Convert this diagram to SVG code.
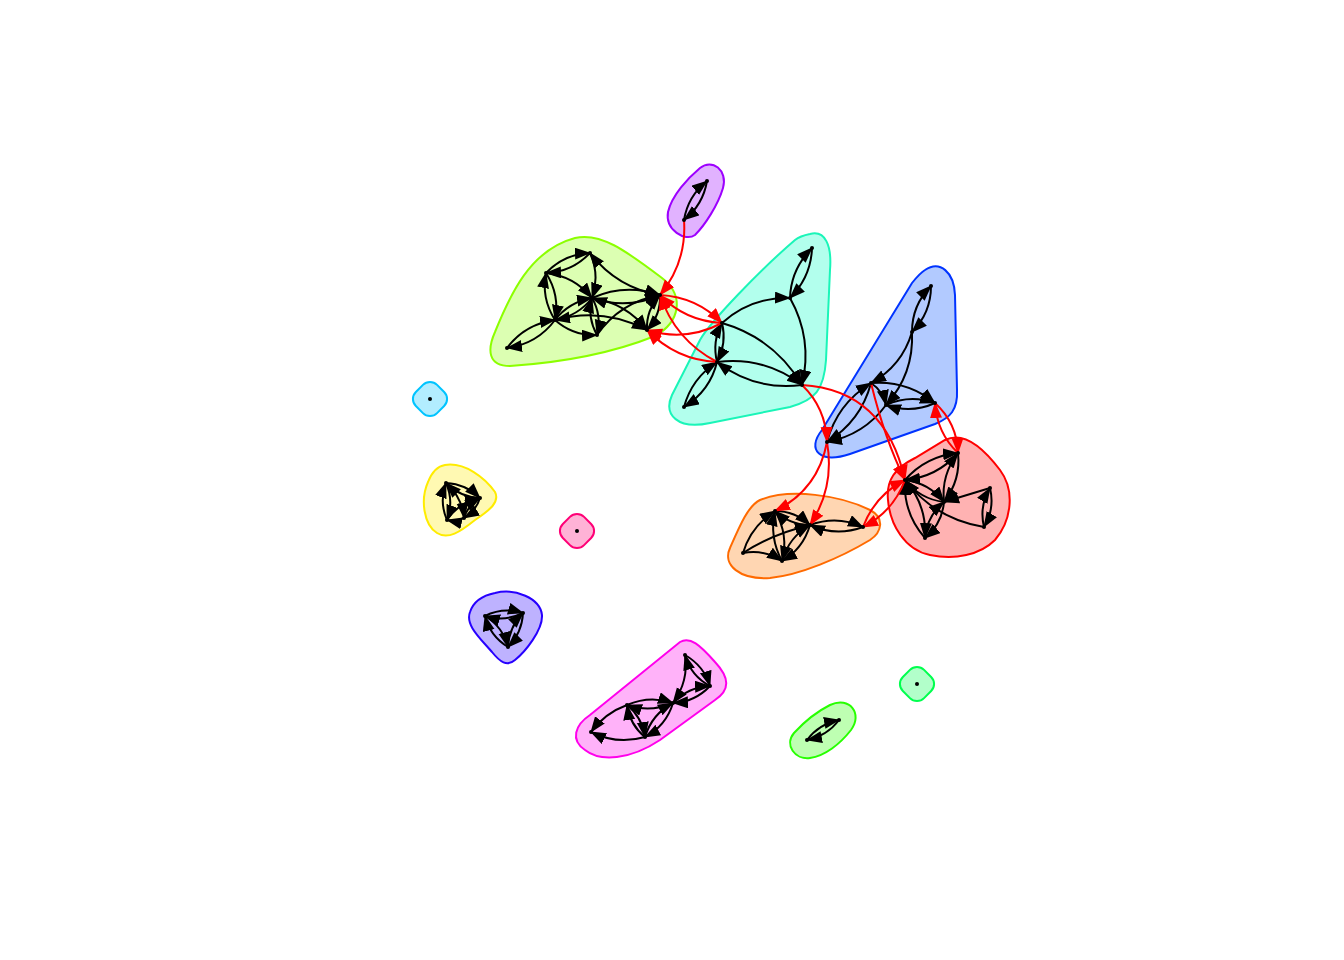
<svg xmlns="http://www.w3.org/2000/svg" width="1344" height="960" viewBox="0 0 1344 960">
<defs>
<marker id="ab" markerUnits="userSpaceOnUse" markerWidth="18" markerHeight="14" refX="15" refY="6" orient="auto"><path d="M0,0 L16,6 L0,12 Z" fill="#000"/></marker>
<marker id="ar" markerUnits="userSpaceOnUse" markerWidth="18" markerHeight="14" refX="15" refY="6" orient="auto"><path d="M0,0 L16,6 L0,12 Z" fill="#f00"/></marker>
</defs>
<style>
.h{stroke-width:2}
.e{fill:none;stroke:#000;stroke-width:2;marker-end:url(#ab)}
.r{fill:none;stroke:#f00;stroke-width:2;marker-end:url(#ar)}
.n{fill:#000}
</style>
<rect width="1344" height="960" fill="#fff"/>
<g id="hulls">
<g id="c-lime"><path class="h" fill="#8CFF00" fill-opacity="0.3" stroke="#8CFF00" d="M575,238 C600,232 625,250 662,278 C685,296 680,322 655,336 C620,350 570,362 510,366 C488,366 487,350 495,332 C510,295 530,250 575,238 Z"/></g>
<g id="c-aqua"><path class="h" fill="#00FFC4" fill-opacity="0.3" stroke="#1AF5B8" d="M810,234 C825,230 832,245 830,270 L826,360 C824,390 815,400 790,407 L710,423 C678,430 663,415 672,395 L700,340 C710,322 760,270 795,240 C800,236 805,235 810,234 Z"/></g>
<g id="c-blue"><path class="h" fill="#004EFF" fill-opacity="0.3" stroke="#0033FF" d="M925,270 C940,260 954,272 955,295 L957,390 C958,410 950,418 935,424 L850,454 C820,464 806,450 822,430 L912,283 C916,278 920,273 925,270 Z"/></g>
<g id="c-red"><path class="h" fill="#FF0000" fill-opacity="0.3" stroke="#FF0000" d="M945,440 C965,430 985,450 1000,470 C1015,490 1012,520 995,540 C980,555 955,560 930,555 C905,550 890,525 888,500 C886,480 895,468 915,458 Z"/></g>
<g id="c-orange"><path class="h" fill="#FF7600" fill-opacity="0.3" stroke="#FF6A00" d="M760,500 C790,488 840,495 870,510 C885,518 882,532 870,540 C840,558 800,575 770,578 C740,580 722,565 730,548 C740,525 748,506 760,500 Z"/></g>
<g id="c-yellow"><path class="h" fill="#FFEC00" fill-opacity="0.3" stroke="#FFEC00" d="M445,465 C465,462 485,478 495,492 C500,502 490,510 475,520 C460,532 448,540 437,533 C424,525 420,500 428,482 C432,472 438,466 445,465 Z"/></g>
<g id="c-violet"><path class="h" fill="#2700FF" fill-opacity="0.3" stroke="#2700FF" d="M495,593 C515,588 540,598 542,615 C543,630 525,652 515,660 C507,667 500,662 492,652 C480,638 465,625 470,612 C474,600 485,595 495,593 Z"/></g>
<g id="c-magenta"><path class="h" fill="#FF00EC" fill-opacity="0.3" stroke="#FF00EC" d="M680,642 C690,636 700,645 715,662 C730,678 730,690 715,700 L660,740 C630,760 600,762 585,750 C570,740 575,725 590,715 L680,642 Z"/></g>
<g id="c-purple"><path class="h" fill="#9D00FF" fill-opacity="0.3" stroke="#9D00FF" d="M700,168 C712,158 728,170 723,188 C718,205 705,225 695,235 C685,242 665,230 668,212 C672,195 688,178 700,168 Z"/></g>
<g id="c-green"><path class="h" fill="#27FF00" fill-opacity="0.3" stroke="#27FF00" d="M830,705 C850,696 863,714 851,730 C840,744 825,756 810,758 C795,760 784,745 794,733 C805,721 818,711 830,705 Z"/></g>
<g id="c-skyblue"><rect class="h" x="-15" y="-15" width="30" height="30" rx="10" transform="translate(430,399) rotate(45)" fill="#00C4FF" fill-opacity="0.3" stroke="#00C4FF"/></g>
<g id="c-pink"><rect class="h" x="-15" y="-15" width="30" height="30" rx="10" transform="translate(577,531) rotate(45)" fill="#FF0076" fill-opacity="0.3" stroke="#FF0076"/></g>
<g id="c-green2"><rect class="h" x="-15" y="-15" width="30" height="30" rx="10" transform="translate(917,684) rotate(45)" fill="#00FF4E" fill-opacity="0.3" stroke="#00FF4E"/></g>
</g>
<g id="edges">
<path class="e" d="M590,253 Q572,272 546,273"/>
<path class="e" d="M546,273 Q564,254 590,253"/>
<path class="e" d="M590,253 Q600,275 592,298"/>
<path class="e" d="M660,295 Q617,288 590,253"/>
<path class="e" d="M546,273 Q574,276 592,298"/>
<path class="e" d="M546,273 Q560,295 555,320"/>
<path class="e" d="M555,320 Q541,298 546,273"/>
<path class="e" d="M592,298 Q578,316 555,320"/>
<path class="e" d="M555,320 Q569,302 592,298"/>
<path class="e" d="M555,320 Q537,344 507,348"/>
<path class="e" d="M507,348 Q525,324 555,320"/>
<path class="e" d="M592,298 Q602,315 597,335"/>
<path class="e" d="M597,335 Q587,317 592,298"/>
<path class="e" d="M555,320 Q573,336 597,335"/>
<path class="e" d="M592,298 Q625,283 660,295"/>
<path class="e" d="M660,295 Q627,310 592,298"/>
<path class="e" d="M592,298 Q626,303 647,330"/>
<path class="e" d="M597,335 Q620,302 660,295"/>
<path class="e" d="M660,295 Q661,315 647,330"/>
<path class="e" d="M647,330 Q646,310 660,295"/>
<path class="e" d="M555,320 Q603,307 647,330"/>
<path class="e" d="M812,248 Q811,277 790,298"/>
<path class="e" d="M790,298 Q791,269 812,248"/>
<path class="e" d="M722,323 Q751,297 790,298"/>
<path class="e" d="M790,298 Q813,339 802,385"/>
<path class="e" d="M722,323 Q774,338 802,385"/>
<path class="e" d="M722,323 Q727,343 717,362"/>
<path class="e" d="M717,362 Q712,341 722,323"/>
<path class="e" d="M802,385 Q755,391 717,362"/>
<path class="e" d="M717,362 Q764,356 802,385"/>
<path class="e" d="M717,362 Q710,391 684,407"/>
<path class="e" d="M684,407 Q692,378 717,362"/>
<path class="e" d="M931,286 Q931,313 912,332"/>
<path class="e" d="M912,332 Q912,305 931,286"/>
<path class="e" d="M912,332 Q902,366 871,383"/>
<path class="e" d="M912,332 Q914,374 886,405"/>
<path class="e" d="M871,383 Q907,380 935,403"/>
<path class="e" d="M935,403 Q911,414 886,405"/>
<path class="e" d="M886,405 Q910,394 935,403"/>
<path class="e" d="M871,383 Q861,421 827,442"/>
<path class="e" d="M827,442 Q837,404 871,383"/>
<path class="e" d="M886,405 Q864,435 827,442"/>
<path class="e" d="M871,383 Q883,391 886,405"/>
<path class="e" d="M958,453 Q937,477 905,480"/>
<path class="e" d="M905,480 Q926,456 958,453"/>
<path class="e" d="M958,453 Q961,480 944,502"/>
<path class="e" d="M944,502 Q941,475 958,453"/>
<path class="e" d="M905,480 Q929,483 944,502"/>
<path class="e" d="M944,502 Q920,499 905,480"/>
<path class="e" d="M905,480 Q927,505 925,538"/>
<path class="e" d="M925,538 Q903,513 905,480"/>
<path class="e" d="M944,502 Q942,524 925,538"/>
<path class="e" d="M925,538 Q927,516 944,502"/>
<path class="e" d="M990,488 Q967,495 944,502"/>
<path class="e" d="M990,488 Q995,509 984,527"/>
<path class="e" d="M984,527 Q979,506 990,488"/>
<path class="e" d="M984,527 Q935,519 905,480"/>
<path class="e" d="M743,553 Q751,526 775,511"/>
<path class="e" d="M775,511 Q789,535 782,561"/>
<path class="e" d="M782,561 Q769,537 775,511"/>
<path class="e" d="M743,553 Q764,549 782,561"/>
<path class="e" d="M743,553 Q772,534 810,525"/>
<path class="e" d="M775,511 Q795,511 810,525"/>
<path class="e" d="M810,525 Q790,525 775,511"/>
<path class="e" d="M782,561 Q789,537 810,525"/>
<path class="e" d="M810,525 Q803,549 782,561"/>
<path class="e" d="M810,525 Q837,515 863,527"/>
<path class="e" d="M863,527 Q836,537 810,525"/>
<path class="e" d="M446,483 Q466,484 480,498"/>
<path class="e" d="M480,498 Q460,497 446,483"/>
<path class="e" d="M480,498 Q476,511 464,518"/>
<path class="e" d="M464,518 Q468,505 480,498"/>
<path class="e" d="M447,520 Q439,502 446,483"/>
<path class="e" d="M446,483 Q454,501 447,520"/>
<path class="e" d="M446,483 Q462,497 464,518"/>
<path class="e" d="M447,520 Q459,502 480,498"/>
<path class="e" d="M464,518 Q456,522 447,520"/>
<path class="e" d="M485,616 Q503,607 523,613"/>
<path class="e" d="M523,613 Q505,622 485,616"/>
<path class="e" d="M523,613 Q522,633 508,647"/>
<path class="e" d="M508,647 Q509,627 523,613"/>
<path class="e" d="M508,647 Q490,636 485,616"/>
<path class="e" d="M485,616 Q503,627 508,647"/>
<path class="e" d="M685,655 Q704,666 710,686"/>
<path class="e" d="M710,686 Q691,676 685,655"/>
<path class="e" d="M685,655 Q689,681 673,703"/>
<path class="e" d="M710,686 Q695,702 673,703"/>
<path class="e" d="M673,703 Q688,687 710,686"/>
<path class="e" d="M627,705 Q650,695 673,703"/>
<path class="e" d="M673,703 Q650,713 627,705"/>
<path class="e" d="M673,703 Q666,726 645,737"/>
<path class="e" d="M645,737 Q652,714 673,703"/>
<path class="e" d="M627,705 Q642,717 645,737"/>
<path class="e" d="M645,737 Q630,725 627,705"/>
<path class="e" d="M627,705 Q605,713 591,732"/>
<path class="e" d="M645,737 Q617,745 591,732"/>
<path class="e" d="M707,181 Q703,205 684,220"/>
<path class="e" d="M684,220 Q688,196 707,181"/>
<path class="e" d="M839,720 Q827,736 807,740"/>
<path class="e" d="M807,740 Q819,724 839,720"/>
<path class="r" d="M684,220 Q687,262 660,295"/>
<path class="r" d="M660,295 Q697,297 722,323"/>
<path class="r" d="M722,323 Q685,321 660,295"/>
<path class="r" d="M717,362 Q675,340 660,295"/>
<path class="r" d="M722,323 Q686,342 647,330"/>
<path class="r" d="M717,362 Q676,360 647,330"/>
<path class="r" d="M802,385 Q826,408 827,442"/>
<path class="r" d="M802,385 Q885,390 905,480"/>
<path class="r" d="M871,383 Q885,440 905,480"/>
<path class="r" d="M827,442 Q818,490 775,511"/>
<path class="r" d="M827,442 Q835,487 810,525"/>
<path class="r" d="M935,403 Q957,423 958,453"/>
<path class="r" d="M958,453 Q937,433 935,403"/>
<path class="r" d="M905,480 Q893,512 863,527"/>
<path class="r" d="M863,527 Q875,495 905,480"/>
</g>
<g id="nodes">
<circle class="n" cx="590" cy="253" r="2"/><circle class="n" cx="546" cy="273" r="2"/><circle class="n" cx="592" cy="298" r="2"/><circle class="n" cx="555" cy="320" r="2"/><circle class="n" cx="507" cy="348" r="2"/><circle class="n" cx="597" cy="335" r="2"/><circle class="n" cx="660" cy="295" r="2"/><circle class="n" cx="647" cy="330" r="2"/>
<circle class="n" cx="812" cy="248" r="2"/><circle class="n" cx="790" cy="298" r="2"/><circle class="n" cx="722" cy="323" r="2"/><circle class="n" cx="717" cy="362" r="2"/><circle class="n" cx="684" cy="407" r="2"/><circle class="n" cx="802" cy="385" r="2"/>
<circle class="n" cx="931" cy="286" r="2"/><circle class="n" cx="912" cy="332" r="2"/><circle class="n" cx="871" cy="383" r="2"/><circle class="n" cx="886" cy="405" r="2"/><circle class="n" cx="935" cy="403" r="2"/><circle class="n" cx="827" cy="442" r="2"/>
<circle class="n" cx="958" cy="453" r="2"/><circle class="n" cx="905" cy="480" r="2"/><circle class="n" cx="944" cy="502" r="2"/><circle class="n" cx="990" cy="488" r="2"/><circle class="n" cx="984" cy="527" r="2"/><circle class="n" cx="925" cy="538" r="2"/>
<circle class="n" cx="775" cy="511" r="2"/><circle class="n" cx="810" cy="525" r="2"/><circle class="n" cx="863" cy="527" r="2"/><circle class="n" cx="743" cy="553" r="2"/><circle class="n" cx="782" cy="561" r="2"/>
<circle class="n" cx="446" cy="483" r="2"/><circle class="n" cx="480" cy="498" r="2"/><circle class="n" cx="464" cy="518" r="2"/><circle class="n" cx="447" cy="520" r="2"/>
<circle class="n" cx="485" cy="616" r="2"/><circle class="n" cx="523" cy="613" r="2"/><circle class="n" cx="508" cy="647" r="2"/>
<circle class="n" cx="685" cy="655" r="2"/><circle class="n" cx="710" cy="686" r="2"/><circle class="n" cx="673" cy="703" r="2"/><circle class="n" cx="627" cy="705" r="2"/><circle class="n" cx="645" cy="737" r="2"/><circle class="n" cx="591" cy="732" r="2"/>
<circle class="n" cx="707" cy="181" r="2"/><circle class="n" cx="684" cy="220" r="2"/>
<circle class="n" cx="839" cy="720" r="2"/><circle class="n" cx="807" cy="740" r="2"/>
<circle class="n" cx="430" cy="399" r="2"/><circle class="n" cx="577" cy="531" r="2"/><circle class="n" cx="917" cy="684" r="2"/>
</g>
</svg>
